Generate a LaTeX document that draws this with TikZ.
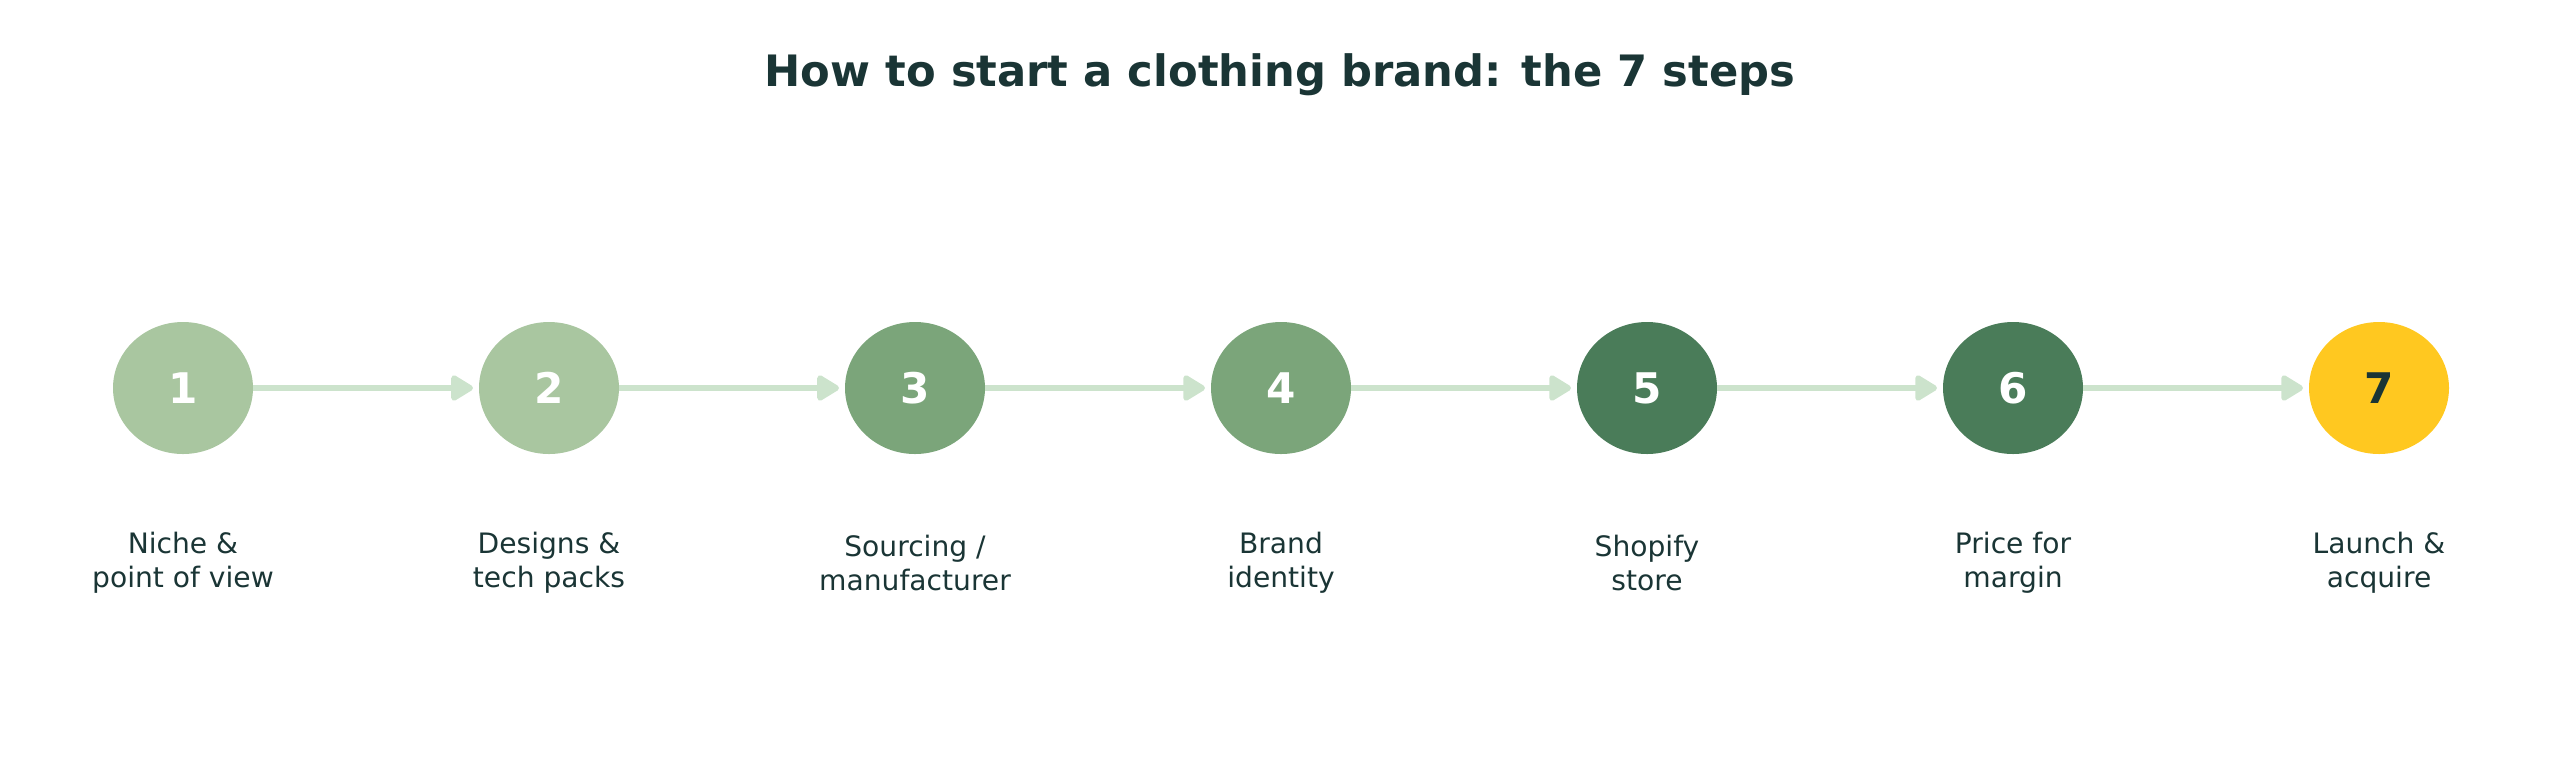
\documentclass[tikz,border=0pt]{standalone}
\usepackage{fontspec}
\setmainfont{DejaVu Sans}
\usetikzlibrary{arrows.meta}
\definecolor{cA}{HTML}{A9C6A0}
\definecolor{cB}{HTML}{7BA57A}
\definecolor{cC}{HTML}{4A7C59}
\definecolor{cY}{HTML}{FFC820}
\definecolor{arr}{HTML}{CCE3CC}
\definecolor{ink}{HTML}{1A3535}
\begin{document}
\begin{tikzpicture}[x=0.01cm,y=-0.01cm,
  stepc/.style={ellipse,minimum width=140\pgflinewidth,draw=none,inner sep=0pt},
  num/.style={font=\fontsize{12}{14}\selectfont\bfseries,text=white},
  lbl/.style={font=\fontsize{8}{9.6}\selectfont,text=ink,align=center},
  conn/.style={draw=arr,line width=1.6pt,-{Triangle[length=7pt,width=8pt,round]}}]
\useasboundingbox (0,0) rectangle (2560,775);
\node[font=\fontsize{12.3}{14}\selectfont\bfseries,text=ink] (title) at (1280,75) {How to start a clothing brand: the 7 steps};
\foreach \i/\c/\t/\l in {1/cA/white/{Niche \&\\point of view},2/cA/white/{Designs \&\\tech packs},3/cB/white/{Sourcing /\\manufacturer},4/cB/white/{Brand\\identity},5/cC/white/{Shopify\\store},6/cC/white/{Price for\\margin},7/cY/ink/{Launch \&\\acquire}}{
  \fill[\c] ({183+366*(\i-1)},388) ellipse [x radius=70, y radius=66];
  \node[num,text=\t] (n\i) at ({183+366*(\i-1)},388) {\i};
  \coordinate (L\i) at ({183+366*(\i-1)-70},388);
  \coordinate (R\i) at ({183+366*(\i-1)+70},388);
  \node[lbl] (t\i) at ({183+366*(\i-1)},563) {\l};
}
\foreach \i [evaluate=\i as \j using int(\i+1)] in {1,...,6}{
  \draw[conn] (R\i) -- ([xshift=-0.06cm]L\j);
}
\end{tikzpicture}
\end{document}
